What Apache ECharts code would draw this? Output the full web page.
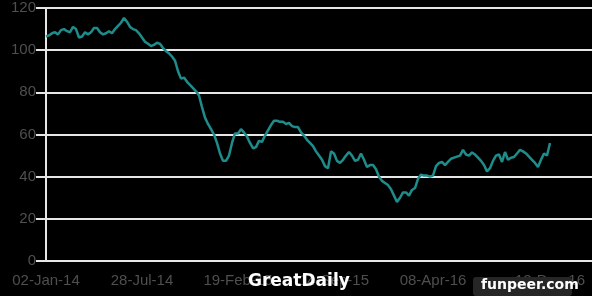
<!DOCTYPE html>
<html>
<head>
<meta charset="utf-8">
<script src="https://cdn.jsdelivr.net/npm/echarts@6/dist/echarts.min.js"></script>
<style>html,body{margin:0;padding:0;background:#000;}#c{width:592px;height:296px;}</style>
</head>
<body>
<div id="c"></div>
<script>
// Series values, one sample every ~3 px along the x axis
const values = [
106.5,107,108,108.5,107.5,109.5,110,109,108.5,111,
110,106,106.5,108.5,107.5,108.5,110.5,110.5,108.5,107.5,
108,109,108,110,111.5,113,115.3,113.5,111,110,
109.5,108,106,104,103,102,102.5,103.5,103,101,
99.5,98.5,97,95,90,86.5,87,85,83.5,82,
80.5,78.5,73,68,65,62.5,60,56,51,47.5,
47.5,50,56,60.5,60.5,62.5,61,59,56,53.5,
54,57,56.5,59.5,62,64.5,66.5,66.5,66,66,
65,65.5,64,63.5,63.5,61,59.5,57.5,56,54.5,
52,50,48,45,44,52,51,47.5,46.5,48,
50,51.7,50,47.5,48,51,48,44.6,45.5,45.5,
43.5,40,38,37,36,34,31,28,30,32.5,
32.5,31,33.7,34.6,39,41,40.5,40.5,40,40.5,
45,46.5,47,45.5,47,48.5,49,49.5,50,52.7,
50.5,50,51.5,50.5,49,47.5,45.5,42.5,44,47.5,
50,50.5,47,51.7,48,49,49.3,51,52.7,52,
51,49.5,48,46.5,44.6,48,51,50,56
];
// Tick labels and the sample index each sits on
const tickLabels = ['02-Jan-14','28-Jul-14','19-Feb-15','14-Sep-15','08-Apr-16','12-Dec-16'];
const tickIndex = [0,32,64,96,129,168];
const totalSlots = 183; // axis continues past the last sample
const yTicks = [0,20,40,60,80,100,120];

const categories = [];
for (let i = 0; i < totalSlots; i++) categories.push(String(i));
const labelOf = {};
tickIndex.forEach((k, j) => { labelOf[k] = tickLabels[j]; });

const chart = echarts.init(document.getElementById('c'), null, {renderer: 'canvas'});
chart.setOption({
  backgroundColor: '#000',
  animation: false,
  grid: {left: 46, right: 0, top: 8, bottom: 35, containLabel: false},
  xAxis: {
    type: 'category',
    data: categories,
    boundaryGap: false,
    axisLine: {lineStyle: {color: '#e6e6e6', width: 2}},
    axisTick: {show: false},
    splitLine: {show: false},
    axisLabel: {
      interval: (idx) => labelOf[idx] !== undefined,
      formatter: (v, idx) => labelOf[idx] || '',
      color: '#4f4f4f',
      fontFamily: 'Liberation Sans, Arial, sans-serif',
      fontSize: 15,
      margin: 12,
      showMinLabel: true,
      showMaxLabel: true,
      hideOverlap: false
    }
  },
  yAxis: {
    type: 'value',
    min: yTicks[0],
    max: yTicks[yTicks.length - 1],
    interval: 20,
    axisLine: {show: true, lineStyle: {color: '#e6e6e6', width: 2}},
    axisTick: {show: true, length: 10, lineStyle: {color: '#e6e6e6', width: 2}},
    splitLine: {show: true, lineStyle: {color: '#e6e6e6', width: 2}},
    axisLabel: {
      color: '#4f4f4f',
      fontFamily: 'Liberation Sans, Arial, sans-serif',
      fontSize: 15,
      margin: 10
    }
  },
  series: [{
    type: 'line',
    data: values,
    showSymbol: false,
    symbol: 'none',
    lineStyle: {color: '#1f8c8c', width: 2.5},
    z: 3
  }],
  graphic: [
    {
      type: 'text', left: 248, top: 273, z: 100,
      style: {text: 'GreatDaily', fill: '#ffffff', font: 'bold 17px "DejaVu Sans", sans-serif'}
    },
    {
      type: 'rect', left: 473, top: 277, z: 99,
      shape: {width: 99, height: 19, r: 3},
      style: {fill: '#262626'}
    },
    {
      type: 'text', left: 481, top: 278, z: 100,
      style: {text: 'funpeer.com', fill: '#ffffff', font: 'bold 14px "DejaVu Sans", sans-serif'}
    }
  ]
});
</script>
</body>
</html>
